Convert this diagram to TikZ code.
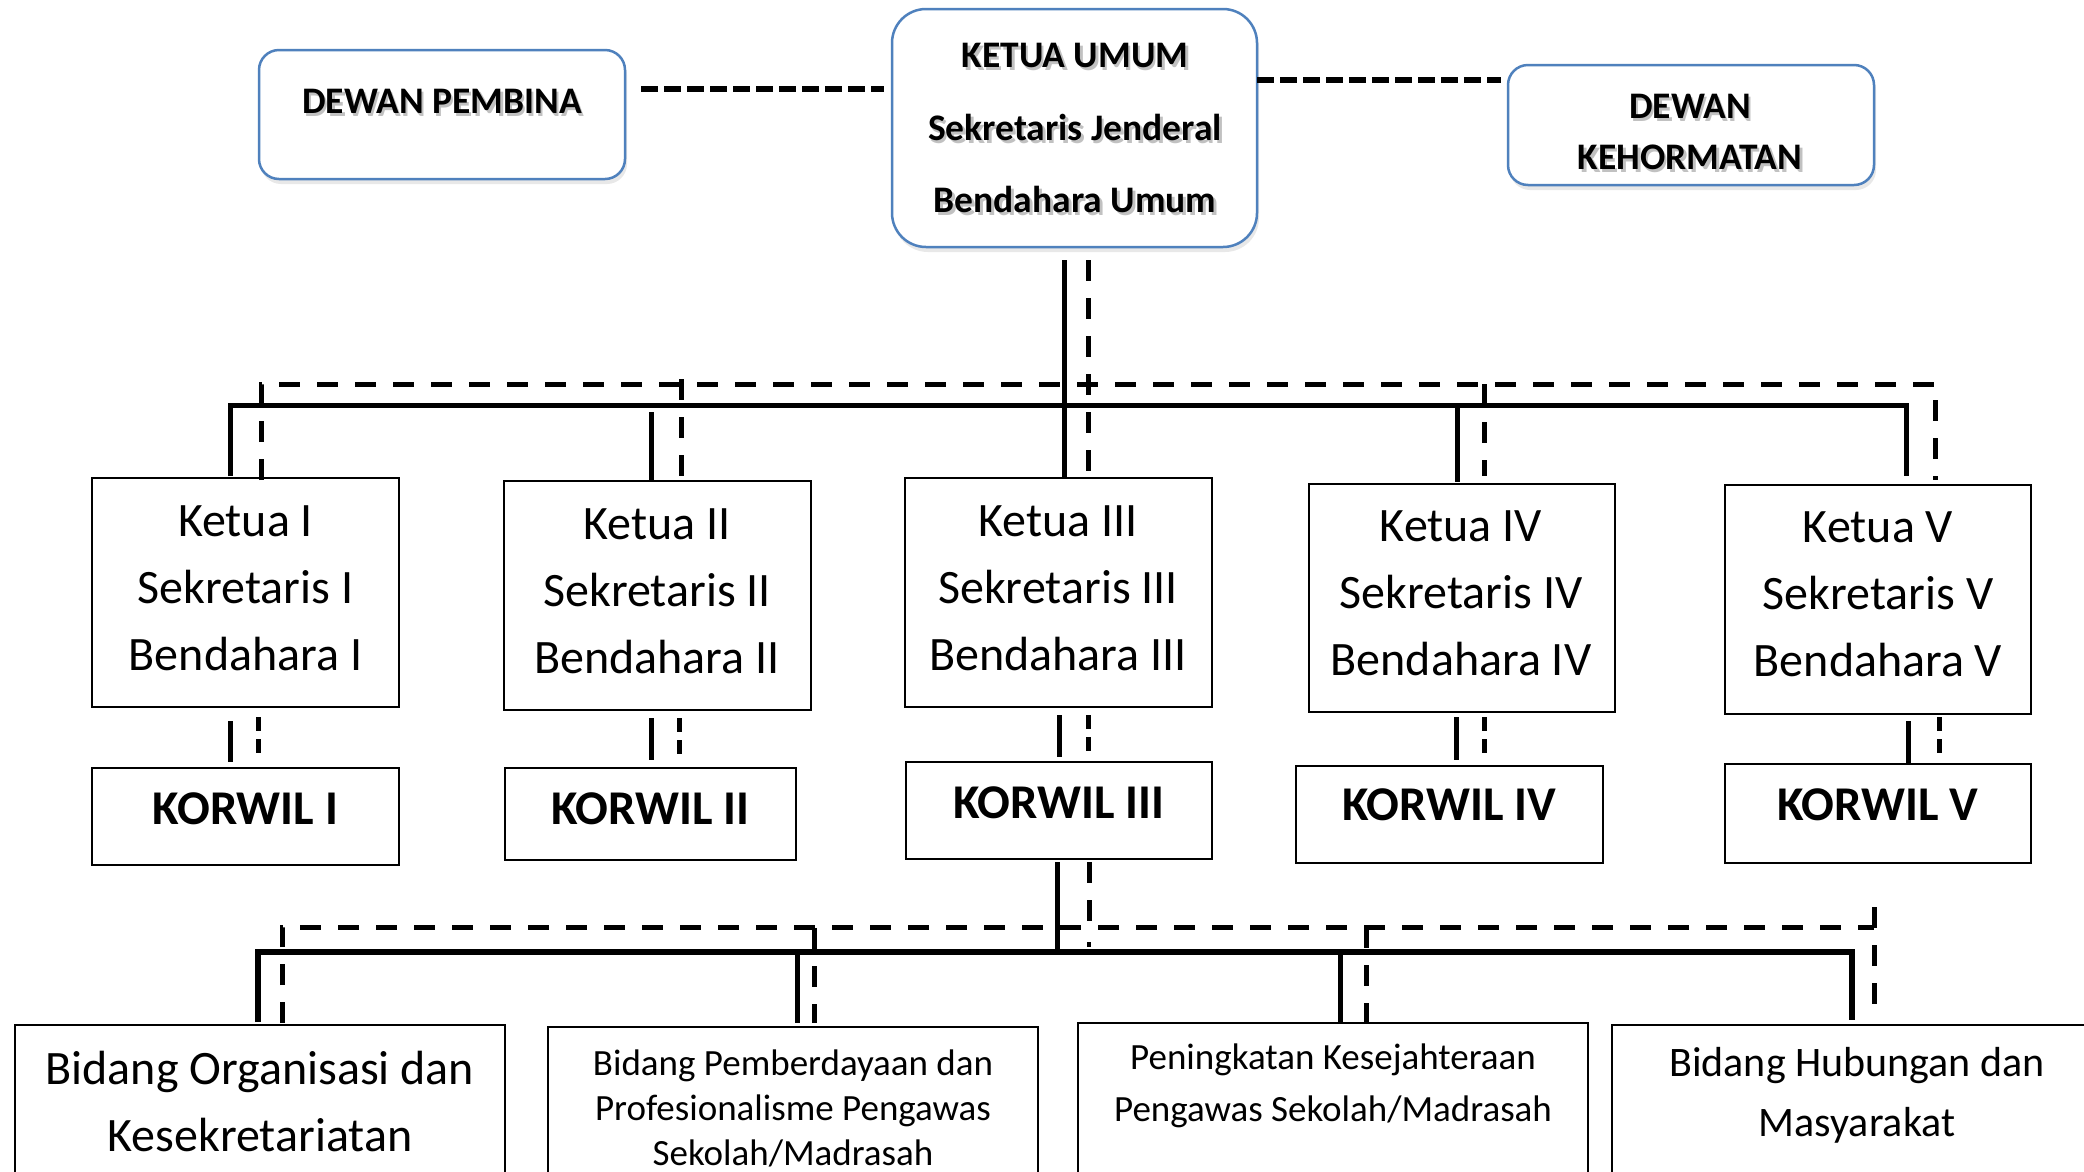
\documentclass[tikz,border=0pt]{standalone}
\usepackage{fontspec}
\setmainfont{Carlito}
\usetikzlibrary{shadows,fit}
\definecolor{bblue}{RGB}{79,129,189}
\begin{document}
\begin{tikzpicture}[x=1pt,y=-1pt,
  topbox/.style={draw=bblue, line width=2.5pt, fill=white, inner sep=0pt,
    drop shadow={opacity=0.18, shadow xshift=2pt, shadow yshift=-5pt}},
  plainbox/.style={draw=black, line width=1.6pt, fill=white, inner sep=0pt},
  toptext/.style={font=\fontsize{37.5}{51}\selectfont\bfseries, align=center, inner sep=0pt},
  topshadow/.style={toptext, text=black!40, opacity=0.6},
  ketext/.style={font=\fontsize{48}{67}\selectfont, align=center, inner sep=0pt},
  kwtext/.style={font=\fontsize{48.5}{56}\selectfont\bfseries, align=center, inner sep=0pt},
  solidln/.style={line width=5pt},
  dashln/.style={line width=5pt, dash pattern=on 21pt off 17pt},
  shortdash/.style={line width=5pt, dash pattern=on 14pt off 8pt},
  topdash/.style={line width=5.5pt, dash pattern=on 17pt off 6pt}]
\path[use as bounding box, clip] (0,0) rectangle (2084,1171);
\fill[white] (0,0) rectangle (2084,1171);

% ---------- top boxes ----------
\node[topbox, rounded corners=20pt, fit={(259,50) (625,179)}] (dp) {};
\node[topbox, rounded corners=34pt, fit={(892,9) (1257,247)}] (ku) {};
\node[topbox, rounded corners=20pt, fit={(1508,65) (1874,185)}] (dk) {};

\node[topshadow] (dpts) at (444.5,104) {DEWAN PEMBINA};
\node[toptext] (dpt) at (442,101) {DEWAN PEMBINA};
\node[topshadow, font=\fontsize{37.5}{72.5}\selectfont\bfseries] (kuts) at (1077.5,131)
  {KETUA UMUM\\Sekretaris Jenderal\\Bendahara Umum};
\node[toptext, font=\fontsize{37.5}{72.5}\selectfont\bfseries] (kut) at (1075,128)
  {KETUA UMUM\\Sekretaris Jenderal\\Bendahara Umum};
\node[topshadow] (dkts) at (1692.5,134.5) {DEWAN\\KEHORMATAN};
\node[toptext] (dkt) at (1690,131.5) {DEWAN\\KEHORMATAN};

% ---------- Ketua boxes ----------
\node[plainbox, fit={(92,478) (399,707)}] (k1) {};
\node[plainbox, fit={(504,481) (811,710)}] (k2) {};
\node[plainbox, fit={(905,478) (1212,707)}] (k3) {};
\node[plainbox, fit={(1309,484) (1615,712)}] (k4) {};
\node[plainbox, fit={(1725,485) (2031,714)}] (k5) {};
\node[ketext] (k1t) at (245.5,588) {Ketua I\\Sekretaris I\\Bendahara I};
\node[ketext] (k2t) at (657,591) {Ketua II\\Sekretaris II\\Bendahara II};
\node[ketext] (k3t) at (1058,588) {Ketua III\\Sekretaris III\\Bendahara III};
\node[ketext] (k4t) at (1461,593) {Ketua IV\\Sekretaris IV\\Bendahara IV};
\node[ketext] (k5t) at (1878,594) {Ketua V\\Sekretaris V\\Bendahara V};

% ---------- KORWIL boxes ----------
\node[plainbox, fit={(92,768) (399,865)}] (w1) {};
\node[plainbox, fit={(505,768) (796,860)}] (w2) {};
\node[plainbox, fit={(906,762) (1212,859)}] (w3) {};
\node[plainbox, fit={(1296,766) (1603,863)}] (w4) {};
\node[plainbox, fit={(1725,764) (2031,863)}] (w5) {};
\node[kwtext] (w1t) at (245.5,809) {KORWIL I};
\node[kwtext] (w2t) at (650.5,809) {KORWIL II};
\node[kwtext] (w3t) at (1059,803) {KORWIL III};
\node[kwtext] (w4t) at (1449.5,805) {KORWIL IV};
\node[kwtext] (w5t) at (1878,805) {KORWIL V};

% ---------- Bidang boxes ----------
\node[plainbox, fit={(15,1025) (505,1260)}] (b1) {};
\node[plainbox, fit={(548,1027) (1038,1260)}] (b2) {};
\node[plainbox, fit={(1078,1023) (1588,1260)}] (b3) {};
\node[plainbox, fit={(1612,1025) (2102,1260)}] (b4) {};
\node[ketext] (b1t) at (260,1101) {Bidang Organisasi dan\\Kesekretariatan};
\node[ketext, font=\fontsize{37}{45}\selectfont] (b2t) at (793,1108)
  {Bidang Pemberdayaan dan\\Profesionalisme Pengawas\\Sekolah/Madrasah};
\node[ketext, font=\fontsize{37}{52}\selectfont] (b3t) at (1333,1086)
  {Peningkatan Kesejahteraan\\Pengawas Sekolah/Madrasah};
\node[ketext, font=\fontsize{42}{60}\selectfont] (b4t) at (1857,1095)
  {Bidang Hubungan dan\\Masyarakat};

% ---------- coordinates ----------
\coordinate (dpR) at (641,89);   \coordinate (kuL) at (884,89);
\coordinate (kuR) at (1257,80);  \coordinate (dkL) at (1501,80);
% level 1 solid
\coordinate (s0a) at (1064,260); \coordinate (s0b) at (1064,478);
\coordinate (s1a) at (230,476);  \coordinate (s1b) at (230,405);
\coordinate (s5b) at (1906,405); \coordinate (s5a) at (1906,476);
\coordinate (s2a) at (651,412);  \coordinate (s2b) at (651,480);
\coordinate (s4a) at (1457,405); \coordinate (s4b) at (1457,482);
% level 1 dashed
\coordinate (d0a) at (1088,260); \coordinate (d0b) at (1088,479);
\coordinate (d1a) at (261,480);  \coordinate (d1b) at (261,384);
\coordinate (d5b) at (1935,384); \coordinate (d5a) at (1935,480);
\coordinate (d2a) at (681,379);  \coordinate (d2b) at (681,476);
\coordinate (d4a) at (1484,384); \coordinate (d4b) at (1484,476);
% ketua -> korwil
\coordinate (ks1a) at (230,721);  \coordinate (ks1b) at (230,762);
\coordinate (kd1a) at (258,717);  \coordinate (kd1b) at (258,758);
\coordinate (ks2a) at (651,718);  \coordinate (ks2b) at (651,760);
\coordinate (kd2a) at (679,718);  \coordinate (kd2b) at (679,760);
\coordinate (ks3a) at (1059,715); \coordinate (ks3b) at (1059,757);
\coordinate (kd3a) at (1088,715); \coordinate (kd3b) at (1088,757);
\coordinate (ks4a) at (1456,717); \coordinate (ks4b) at (1456,760);
\coordinate (kd4a) at (1484,717); \coordinate (kd4b) at (1484,760);
\coordinate (ks5a) at (1908,721); \coordinate (ks5b) at (1908,763);
\coordinate (kd5a) at (1939,717); \coordinate (kd5b) at (1939,758);
% level 3 solid
\coordinate (t0a) at (1057,862);  \coordinate (t0b) at (1057,952);
\coordinate (t1a) at (258,1022);  \coordinate (t1b) at (258,952);
\coordinate (t4b) at (1852,952);  \coordinate (t4a) at (1852,1020);
\coordinate (t2a) at (797,952);   \coordinate (t2b) at (797,1023);
\coordinate (t3a) at (1340,952);  \coordinate (t3b) at (1340,1023);
% level 3 dashed
\coordinate (u0a) at (1089,862);  \coordinate (u0b) at (1089,927);
\coordinate (u0c) at (1089,942);  \coordinate (u0d) at (1089,947);
\coordinate (u1a) at (282,1023);  \coordinate (u1b) at (282,927);
\coordinate (u4b) at (1874,927);
\coordinate (u4c) at (1874,907);  \coordinate (u4d) at (1874,1007);
\coordinate (u2a) at (814,928);   \coordinate (u2b) at (814,1023);
\coordinate (u3a) at (1366,927);  \coordinate (u3b) at (1366,1023);

% ---------- connectors ----------
\draw[topdash] (dpR) -- (kuL);
\draw[topdash] (kuR) -- (dkL);

\draw[solidln] (s0a) -- (s0b);
\draw[solidln] (s1a) -- (s1b) -- (s5b) -- (s5a);
\draw[solidln] (s2a) -- (s2b);
\draw[solidln] (s4a) -- (s4b);
\draw[dashln] (d0a) -- (d0b);
\draw[dashln] (d1a) -- (d1b) -- (d5b) -- (d5a);
\draw[dashln] (d2a) -- (d2b);
\draw[dashln] (d4a) -- (d4b);

\foreach \i in {1,...,5}{
  \draw[solidln] (ks\i a) -- (ks\i b);
  \draw[shortdash] (kd\i a) -- (kd\i b);
}

\draw[solidln] (t0a) -- (t0b);
\draw[solidln, line width=6pt] (t1a) -- (t1b) -- (t4b) -- (t4a);
\draw[solidln] (t2a) -- (t2b);
\draw[solidln] (t3a) -- (t3b);
\draw[dashln] (u0a) -- (u0b);
\draw[line width=4.5pt] (u0c) -- (u0d);
\draw[dashln] (u1a) -- (u1b) -- (u4b);
\draw[dashln] (u4c) -- (u4d);
\draw[dashln] (u2a) -- (u2b);
\draw[dashln] (u3a) -- (u3b);
\end{tikzpicture}
\end{document}
